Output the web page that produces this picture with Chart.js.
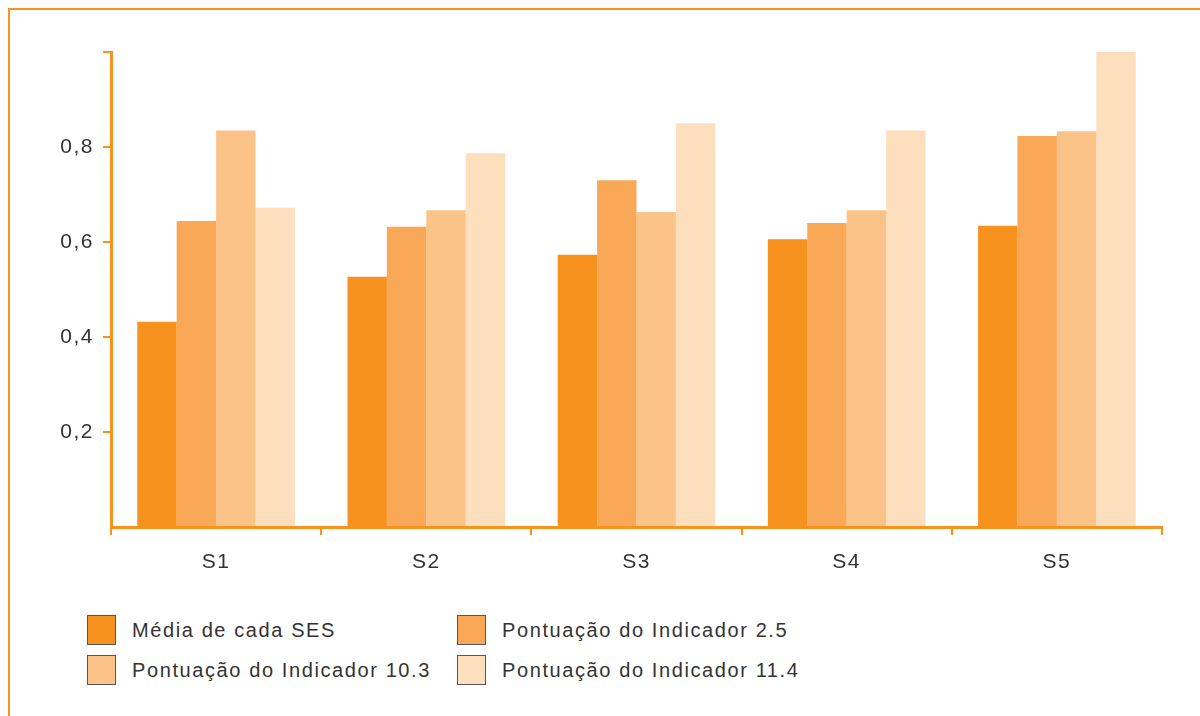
<!DOCTYPE html>
<html>
<head>
<meta charset="utf-8">
<script src="https://cdn.jsdelivr.net/npm/chart.js@4"></script>
<style>
  html, body { margin: 0; padding: 0; background: #fff; }
  body { width: 1200px; height: 716px; position: relative; overflow: hidden; font-family: "Liberation Sans", Arial, sans-serif; }
  #frame { position: absolute; left: 8px; top: 8px; right: -4px; bottom: -4px; border-top: 2px solid #f7931e; border-left: 2px solid #f7931e; }
  #box { position: absolute; left: 0; top: 0; width: 1200px; height: 600px; }
  #legend { position: absolute; left: 0; top: 0; }
  .item { position: absolute; display: flex; align-items: center; white-space: nowrap; }
  .sw { width: 27px; height: 28px; border: 1.5px solid #555; box-sizing: content-box; flex: none; }
  .lbl { font-size: 20px; color: #333; letter-spacing: 1.6px; margin-left: 16px; white-space: nowrap; }
</style>
</head>
<body>
<div id="frame"></div>
<div id="box"><canvas id="myChart"></canvas></div>
<div id="legend"></div>
<script>
const categories = ['S1', 'S2', 'S3', 'S4', 'S5'];
const seriesLabels = ['Média de cada SES', 'Pontuação do Indicador 2.5', 'Pontuação do Indicador 10.3', 'Pontuação do Indicador 11.4'];
const media = [0.432, 0.527, 0.573, 0.606, 0.634];
const ind25 = [0.644, 0.632, 0.730, 0.640, 0.823];
const ind103 = [0.835, 0.667, 0.663, 0.667, 0.833];
const ind114 = [0.672, 0.787, 0.850, 0.835, 1.0];
const colors = ['#f7921e', '#f9a857', '#fcc388', '#fddfbd'];
const yTicks = [0, 0.2, 0.4, 0.6, 0.8, 1];

const orange = '#f7921e';

// wider tracking for the axis labels, like the original
const spacing = {
  id: 'spacing',
  beforeDraw(c) { c.ctx.letterSpacing = '1.5px'; }
};

const ctx = document.getElementById('myChart').getContext('2d');
const chart = new Chart(ctx, {
  type: 'bar',
  data: {
    labels: categories,
    datasets: [media, ind25, ind103, ind114].map((d, i) => ({
      label: seriesLabels[i],
      data: d,
      backgroundColor: colors[i],
      borderWidth: 0,
      categoryPercentage: 0.75,
      barPercentage: 1.0
    }))
  },
  plugins: [spacing],
  options: {
    responsive: true,
    maintainAspectRatio: false,
    animation: false,
    layout: { padding: { top: 52, right: 38, left: 0, bottom: 0 } },
    plugins: {
      legend: { display: false },
      tooltip: { enabled: false }
    },
    scales: {
      x: {
        grid: { drawOnChartArea: false, offset: true, color: orange, lineWidth: 2, tickLength: 8 },
        border: { color: orange, width: 3 },
        ticks: { color: '#333', font: { family: 'Liberation Sans', size: 21 }, padding: 15 },
        afterFit: s => { s.height = 73; }
      },
      y: {
        min: 0,
        max: 1,
        afterBuildTicks: s => { s.ticks = yTicks.map(v => ({ value: v })); },
        grid: {
          drawOnChartArea: false,
          color: c => (c.tick && c.tick.value === 0) ? 'rgba(0,0,0,0)' : orange,
          lineWidth: 2,
          tickLength: 8
        },
        border: { color: orange, width: 3 },
        ticks: {
          color: '#333',
          font: { family: 'Liberation Sans', size: 21 },
          padding: 9,
          callback: v => (v === 0 || v === 1) ? '' : v.toFixed(1).replace('.', ',')
        },
        afterFit: s => { s.width = 111; }
      }
    }
  }
});

// legend built from the chart's datasets, 2 columns
const pos = [[87, 615], [457, 615], [87, 655], [457, 655]];
const leg = document.getElementById('legend');
chart.data.datasets.forEach((ds, i) => {
  const el = document.createElement('div');
  el.className = 'item';
  el.style.left = pos[i][0] + 'px';
  el.style.top = pos[i][1] + 'px';
  el.innerHTML = '<div class="sw" style="background:' + ds.backgroundColor + '"></div><span class="lbl">' + ds.label + '</span>';
  leg.appendChild(el);
});
</script>
</body>
</html>
